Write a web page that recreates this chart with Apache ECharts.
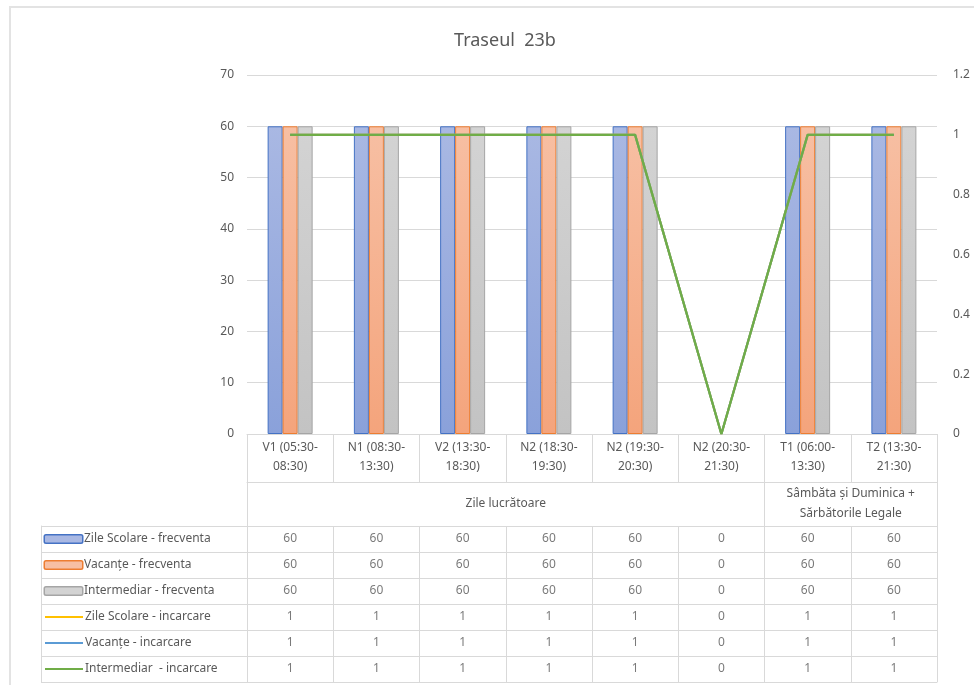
<!DOCTYPE html>
<html>
<head>
<meta charset="utf-8">
<title>Traseul 23b</title>
<script src="https://cdn.jsdelivr.net/npm/echarts@6/dist/echarts.min.js"></script>
<style>
  html, body { margin: 0; padding: 0; background: #fff; }
  #main { width: 974px; height: 685px; }
  #frame { position: absolute; left: 9px; top: 6px; right: 0; bottom: 0; border-left: 2px solid #e3e3e3; border-top: 2px solid #e3e3e3; pointer-events: none; }
</style>
</head>
<body>
<div id="main"></div>
<div id="frame"></div>
<script>
// categories on the x axis (two-line labels as in the original)
const categories = [
  'V1 (05:30-\n08:30)', 'N1 (08:30-\n13:30)', 'V2 (13:30-\n18:30)', 'N2 (18:30-\n19:30)',
  'N2 (19:30-\n20:30)', 'N2 (20:30-\n21:30)', 'T1 (06:00-\n13:30)', 'T2 (13:30-\n21:30)'
]
// second level of the category axis
const groupNames = ['Zile lucrătoare', 'Sâmbăta și Duminica +\nSărbătorile Legale']
const groupSizes = [6, 2]

const seriesNames = [
  'Zile Scolare - frecventa', 'Vacanțe - frecventa', 'Intermediar - frecventa',
  'Zile Scolare - incarcare', 'Vacanțe - incarcare', 'Intermediar  - incarcare'
]
const zileScolareFrecventa = [60, 60, 60, 60, 60, 0, 60, 60]
const vacanteFrecventa = [60, 60, 60, 60, 60, 0, 60, 60]
const intermediarFrecventa = [60, 60, 60, 60, 60, 0, 60, 60]
const zileScolareIncarcare = [1, 1, 1, 1, 1, 0, 1, 1]
const vacanteIncarcare = [1, 1, 1, 1, 1, 0, 1, 1]
const intermediarIncarcare = [1, 1, 1, 1, 1, 0, 1, 1]

const leftTicks = [0, 10, 20, 30, 40, 50, 60, 70]
const rightTicks = [0, 0.2, 0.4, 0.6, 0.8, 1, 1.2]

const allValues = [
  zileScolareFrecventa, vacanteFrecventa, intermediarFrecventa,
  zileScolareIncarcare, vacanteIncarcare, intermediarIncarcare
]

const textColor = '#595959'
const gridColor = '#d9d9d9'
const font = 'Noto Sans'

// bar look: gradient fill + border, like the office theme
const barStyles = [
  { top: '#a9b8e3', bottom: '#8aa1da', border: '#4472c4' },
  { top: '#f7bfa3', bottom: '#f4a47c', border: '#ed7d31' },
  { top: '#d3d3d3', bottom: '#c3c3c3', border: '#a5a5a5' }
]
const lineColors = ['#ffc000', '#5b9bd5', '#70ad47']

// group boundaries / centers on a 0..N value scale
const groupEdges = [0]
groupSizes.forEach(n => groupEdges.push(groupEdges[groupEdges.length - 1] + n))
const groupCenters = groupSizes.map((n, i) => groupEdges[i] + n / 2)

const chart = echarts.init(document.getElementById('main'))

const barSeries = barStyles.map((s, i) => ({
  name: seriesNames[i],
  type: 'bar',
  xAxisIndex: 0,
  yAxisIndex: 0,
  barWidth: 15,
  barGap: '0%',
  itemStyle: {
    color: new echarts.graphic.LinearGradient(0, 0, 0, 1, [
      { offset: 0, color: s.top },
      { offset: 1, color: s.bottom }
    ]),
    borderColor: s.border,
    borderWidth: 1
  },
  // zero-height bars: no outline (Excel draws nothing there)
  data: allValues[i].map(v => v === 0 ? { value: v, itemStyle: { borderWidth: 0 } } : v)
}))

const lineSeries = lineColors.map((c, i) => ({
  name: seriesNames[i + 3],
  type: 'line',
  xAxisIndex: 0,
  yAxisIndex: 1,
  symbol: 'none',
  lineStyle: { color: c, width: 2.25 },
  data: allValues[i + 3]
}))

// data table cells
const cellData = []
allValues.forEach((row, r) => {
  row.forEach((v, c) => cellData.push([c, r, v]))
})

// legend keys for the table rows (rich text)
const rich = { t: { color: textColor, fontSize: 12, fontFamily: font, padding: [0, 0, 0, 2] } }
barStyles.forEach((s, i) => {
  rich['k' + i] = { width: 37, height: 7, backgroundColor: s.top, borderColor: s.border, borderWidth: 1.5, borderRadius: 1 }
})
lineColors.forEach((c, i) => {
  rich['k' + (i + 3)] = { width: 38, height: 2, backgroundColor: c }
})

chart.setOption({
  animation: false,
  title: {
    text: 'Traseul  23b',
    left: 500,
    top: 27,
    textAlign: 'center',
    textStyle: { color: textColor, fontSize: 18, fontWeight: 'normal', fontFamily: font }
  },
  grid: [
    { left: 247, right: 37, top: 75, height: 359 },
    { left: 247, right: 37, top: 526, height: 156 }
  ],
  xAxis: [
    {
      type: 'category',
      gridIndex: 0,
      data: categories,
      axisLine: { lineStyle: { color: gridColor } },
      axisTick: { show: true, interval: 0, length: 48, lineStyle: { color: gridColor } },
      axisLabel: { interval: 0, color: textColor, fontSize: 12, fontFamily: font, lineHeight: 19, margin: 4 }
    },
    {
      type: 'value',
      gridIndex: 0,
      min: 0,
      max: categories.length,
      position: 'bottom',
      offset: 48,
      splitLine: { show: false },
      axisLine: { show: true, onZero: false, lineStyle: { color: gridColor } },
      axisTick: { show: true, customValues: groupEdges, length: 44, lineStyle: { color: gridColor } },
      axisLabel: {
        customValues: groupCenters,
        formatter: v => groupNames[groupCenters.indexOf(v)] || '',
        color: textColor, fontSize: 12, fontFamily: font, lineHeight: 20,
        verticalAlign: 'middle', margin: 22
      }
    },
    {
      type: 'category',
      gridIndex: 1,
      data: categories,
      axisLine: { show: true, lineStyle: { color: gridColor } },
      axisTick: { show: false },
      axisLabel: { show: false },
      splitLine: { show: true, interval: 0, lineStyle: { color: gridColor } }
    }
  ],
  yAxis: [
    {
      type: 'value',
      gridIndex: 0,
      min: leftTicks[0],
      max: leftTicks[leftTicks.length - 1],
      interval: leftTicks[1] - leftTicks[0],
      axisLine: { show: false },
      axisTick: { show: false },
      axisLabel: { color: textColor, fontSize: 12, fontFamily: font, margin: 13 },
      splitLine: { lineStyle: { color: gridColor } }
    },
    {
      type: 'value',
      gridIndex: 0,
      position: 'right',
      min: rightTicks[0],
      max: rightTicks[rightTicks.length - 1],
      interval: rightTicks[1] - rightTicks[0],
      axisLine: { show: false },
      axisTick: { show: false },
      splitLine: { show: false },
      axisLabel: { color: textColor, fontSize: 12, fontFamily: font, margin: 16 }
    },
    {
      type: 'category',
      gridIndex: 1,
      inverse: true,
      data: seriesNames,
      axisLine: { show: true, lineStyle: { color: gridColor } },
      axisTick: { show: true, interval: 0, length: 206, lineStyle: { color: gridColor } },
      splitLine: { show: true, interval: 0, lineStyle: { color: gridColor } },
      axisLabel: {
        interval: 0,
        align: 'left',
        margin: 202,
        formatter: (v, i) => '{k' + i + '|}{t|' + v + '}',
        rich: rich
      }
    },
    {
      type: 'category',
      gridIndex: 1,
      inverse: true,
      data: seriesNames,
      position: 'left',
      offset: 206,
      axisLine: { show: true, lineStyle: { color: gridColor } },
      axisTick: { show: false },
      axisLabel: { show: false },
      splitLine: { show: false }
    }
  ],
  series: [
    ...barSeries,
    ...lineSeries,
    {
      name: 'table',
      type: 'scatter',
      xAxisIndex: 2,
      yAxisIndex: 2,
      symbolSize: 1,
      itemStyle: { color: 'rgba(0,0,0,0)' },
      label: {
        show: true,
        position: 'inside',
        formatter: p => String(p.value[2]),
        color: textColor,
        fontSize: 12,
        fontFamily: font
      },
      data: cellData
    }
  ]
})
</script>
</body>
</html>
